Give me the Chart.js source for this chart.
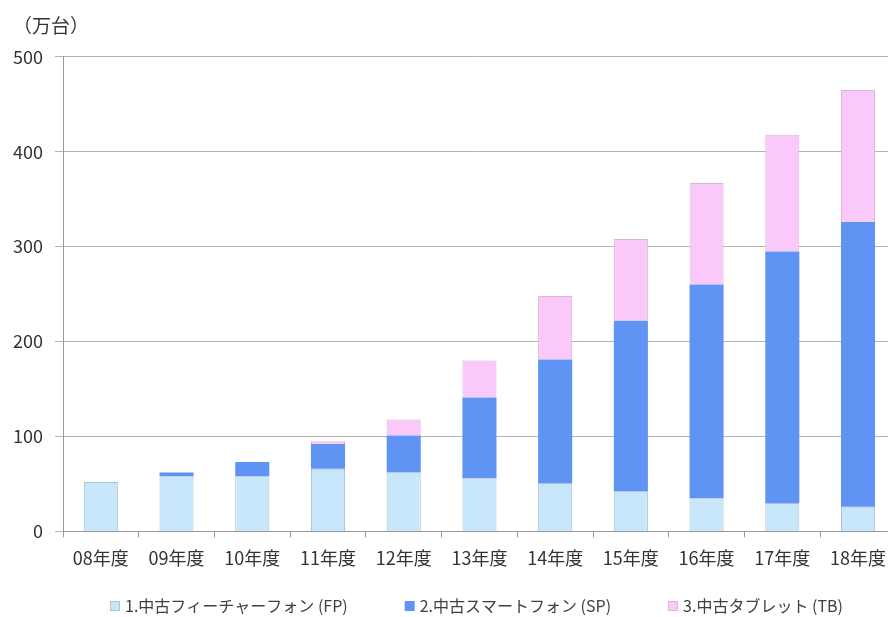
<!DOCTYPE html>
<html>
<head>
<meta charset="utf-8">
<script src="https://cdn.jsdelivr.net/npm/chart.js@4/dist/chart.umd.min.js"></script>
<style>
  html, body { margin: 0; padding: 0; background: #fff; overflow: hidden; }
  #wrap { width: 896px; height: 617px; }
</style>
</head>
<body>
<div id="wrap"><canvas id="usedPhones"></canvas></div>
<script>
var years = ['08年度', '09年度', '10年度', '11年度', '12年度', '13年度', '14年度', '15年度', '16年度', '17年度', '18年度']
var featurePhones = [52, 58, 58, 66, 62, 56, 51, 42, 35, 30, 26]
var smartPhones = [0, 4, 15, 26, 39, 85, 130, 180, 225, 265, 300]
var tablets = [0, 0, 0, 3, 17, 39, 67, 86, 107, 123, 139]
var yTicks = [0, 100, 200, 300, 400, 500]

var jpFont = "'Noto Sans CJK JP', 'Noto Sans', sans-serif"

function addChart (chartId, chartType, chartData, chartOptions, plugins) {
  var ctx = document.getElementById(chartId).getContext('2d')
  return new Chart(ctx, {type: chartType, data: chartData, options: chartOptions, plugins: plugins})
}

// legend drawn in one row under the axis labels, spaced like the excel original
var rowLegend = {
  id: 'rowLegend',
  afterDraw: function (chart, args, opts) {
    var ctx = chart.ctx
    var x = opts.left
    ctx.save()
    ctx.font = opts.size + 'px ' + jpFont
    ctx.textBaseline = 'middle'
    ctx.textAlign = 'left'
    chart.data.datasets.forEach(function (ds) {
      ctx.fillStyle = ds.backgroundColor
      ctx.fillRect(x, opts.y - 5, 10, 10)
      if (ds.borderWidth) {
        ctx.strokeStyle = ds.borderColor
        ctx.lineWidth = 1
        ctx.strokeRect(x + 0.5, opts.y - 4.5, 9, 9)
      }
      ctx.fillStyle = opts.color
      ctx.fillText(ds.label, x + 15, opts.y)
      x += 15 + ctx.measureText(ds.label).width + opts.gap
    })
    ctx.restore()
  }
}

var chartData = {
  labels: years,
  datasets: [
    {label: '1.中古フィーチャーフォン (FP)', data: featurePhones, backgroundColor: '#c9e7fa', borderColor: '#aac3d3', borderWidth: 1},
    {label: '2.中古スマートフォン (SP)', data: smartPhones, backgroundColor: '#5f94f5', borderColor: '#5f94f5', borderWidth: 0},
    {label: '3.中古タブレット (TB)', data: tablets, backgroundColor: '#fbc8fa', borderColor: '#dcb5dc', borderWidth: 1}
  ]
}

var chartOptions = {
  responsive: true,
  maintainAspectRatio: false,
  animation: false,
  layout: {padding: {left: 13, right: 0, top: 4, bottom: 38}},
  datasets: {bar: {categoryPercentage: 1, barPercentage: 0.45}},
  plugins: {
    title: {
      display: true,
      text: '（万台）',
      align: 'start',
      color: '#333',
      font: {family: jpFont, size: 19, weight: 'normal'},
      padding: {top: 10, bottom: 20}
    },
    legend: {display: false},
    rowLegend: {left: 110, y: 606, gap: 57, size: 16, color: '#404040'},
    tooltip: {enabled: false}
  },
  scales: {
    x: {
      stacked: true,
      grid: {display: true, drawOnChartArea: false, drawTicks: true, tickLength: 6, color: '#999', offset: true},
      border: {display: true, color: '#999'},
      ticks: {color: '#333', font: {family: jpFont, size: 18}, padding: 10, autoSkip: false, maxRotation: 0}
    },
    y: {
      stacked: true,
      min: 0,
      max: 500,
      afterFit: function (axis) { axis.width = 50 },
      afterBuildTicks: function (axis) {
        axis.ticks = yTicks.map(function (v) { return {value: v} })
      },
      grid: {color: '#b4b4b4', tickLength: 8},
      border: {display: true, color: '#999'},
      ticks: {color: '#333', font: {family: jpFont, size: 18}, padding: 12}
    }
  }
}

addChart('usedPhones', 'bar', chartData, chartOptions, [rowLegend])
</script>
</body>
</html>
